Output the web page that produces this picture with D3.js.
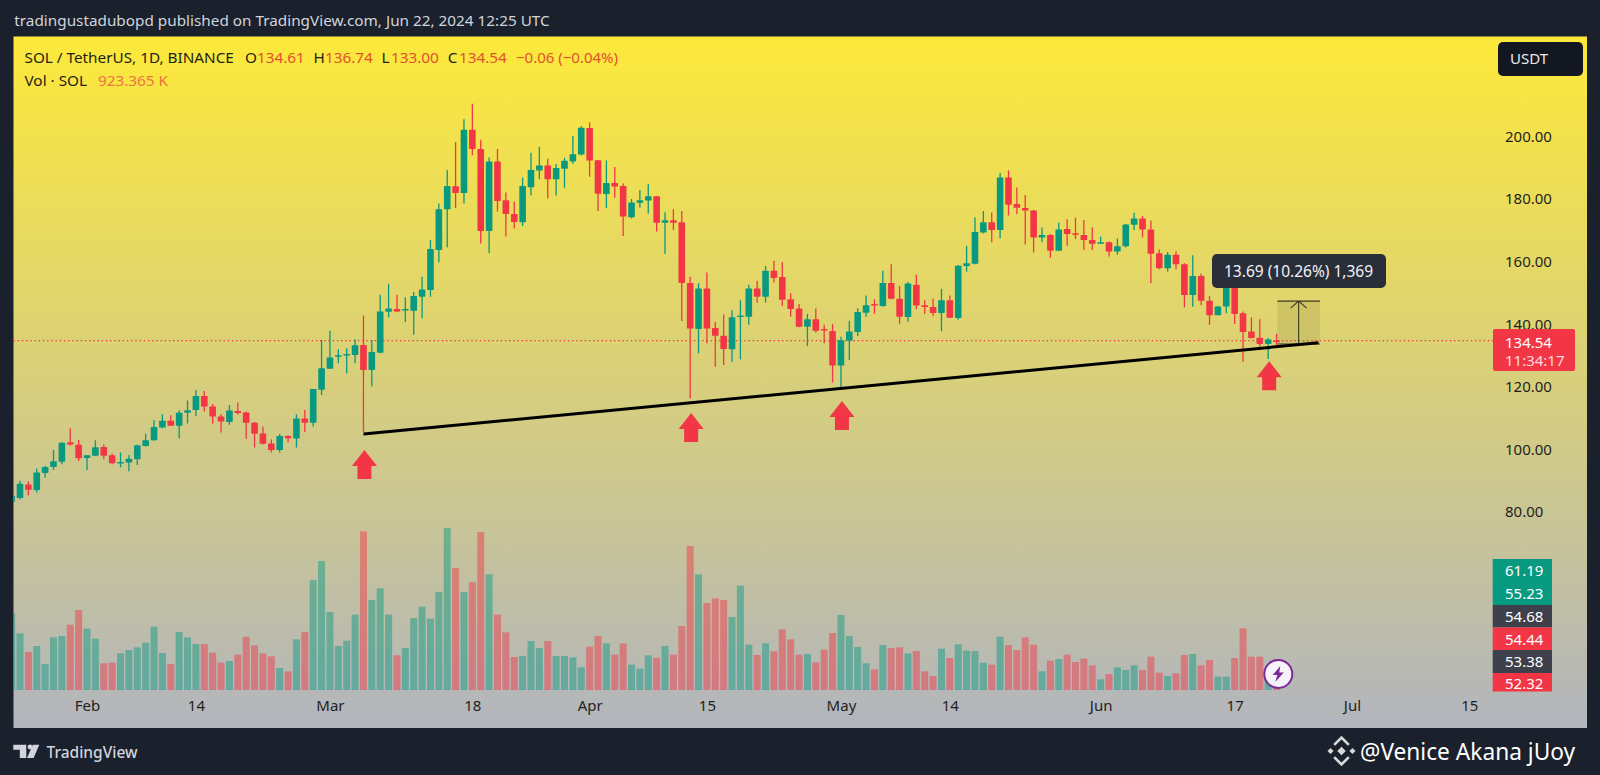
<!DOCTYPE html>
<html><head><meta charset="utf-8">
<script src="https://cdn.jsdelivr.net/npm/d3@7/dist/d3.min.js"></script>
<style>
html,body{margin:0;padding:0;background:#1a202c;overflow:hidden}
svg{display:block}
text{font-family:"Noto Sans",sans-serif}
</style></head><body>
<svg id="c" width="1600" height="775"></svg>
<script>
const firstDay = "2024-01-23";
const open = [83.0,84.3,88.6,86.8,92.3,94.2,95.9,102.1,101.3,97.1,97.8,100.6,97.9,95.5,95.6,96.7,100.9,102.7,106.8,109.0,107.4,111.5,112.4,116.9,113.5,110.3,108.6,112.1,111.6,108.3,104.9,101.7,99.6,104.1,103.3,109.7,108.3,118.9,125.6,129.4,130.1,130.0,133.2,125.2,130.7,143.8,144.7,144.2,144.1,148.6,150.7,163.5,176.5,183.9,181.7,201.9,195.8,169.6,191.8,179.4,175.0,172.4,183.6,188.9,190.5,186.1,189.5,191.8,194.0,202.5,192.2,181.4,184.9,184.0,174.0,178.6,179.3,180.7,172.2,173.0,172.4,153.0,138.3,151.2,138.6,136.1,131.8,142.3,142.2,151.2,148.6,156.9,154.9,147.8,144.8,139.0,141.4,138.3,137.6,126.6,134.5,137.3,143.5,146.3,145.6,153.0,147.9,142.1,152.4,145.9,145.3,143.4,147.5,141.8,158.4,159.1,169.1,172.4,169.9,186.7,178.2,176.9,176.1,167.5,168.3,163.3,170.2,168.9,168.3,166.7,165.5,166.0,163.0,164.7,171.6,173.6,170.1,162.5,157.7,162.0,159.0,149.1,155.2,147.3,142.7,145.5,155.0,143.3,137.5,135.5,133.5,134.61];
const high = [85.5,89.8,89.6,93.7,94.5,99.6,102.1,106.6,102.8,98.0,102.7,101.4,98.5,98.8,98.0,101.4,104.9,109.2,111.1,110.7,112.2,115.4,118.8,118.5,114.3,111.1,114.0,114.8,111.9,108.6,107.1,103.0,104.7,104.3,111.0,112.4,119.1,134.8,137.7,131.8,132.1,135.0,142.6,134.8,149.2,152.7,149.2,148.4,150.1,155.0,166.7,178.4,189.1,198.0,205.3,210.2,198.7,193.1,195.8,181.9,179.0,186.7,194.6,196.5,192.7,191.0,193.0,199.9,203.1,204.3,192.3,192.1,190.0,184.8,179.8,182.7,184.6,180.8,175.6,176.5,176.0,155.0,152.9,156.3,140.5,142.9,144.3,147.5,152.4,153.7,158.4,160.1,159.7,149.7,146.3,143.1,144.8,139.6,139.9,135.8,140.9,144.9,149.0,147.8,156.9,159.0,152.0,153.3,155.6,147.5,147.9,151.1,149.0,158.7,164.8,174.0,176.0,175.5,188.2,188.9,183.5,181.1,176.3,170.7,168.6,172.2,173.3,173.8,173.1,170.8,167.8,166.2,167.2,171.8,175.4,174.4,172.9,163.7,162.9,163.1,159.3,161.8,156.0,148.8,145.6,157.0,160.0,143.9,142.0,141.4,135.4,136.74];
const low = [82.5,83.9,85.1,86.0,90.8,93.2,95.1,101.0,96.1,93.2,97.7,96.7,95.1,94.1,92.8,94.8,100.7,102.6,106.6,107.3,103.3,108.1,110.5,111.9,108.0,105.2,107.7,110.9,103.1,100.4,101.4,98.8,98.8,102.0,100.4,105.4,107.1,117.2,125.5,127.3,124.1,127.3,105.4,119.9,130.5,142.0,143.6,140.5,136.4,141.6,148.6,159.5,164.4,176.9,178.4,193.8,165.6,162.5,175.8,167.8,170.4,171.2,180.9,186.1,180.0,180.9,183.4,191.0,193.7,186.9,176.0,176.9,180.2,168.0,173.6,177.0,175.2,169.4,162.2,169.9,140.8,116.1,130.5,133.7,126.2,126.8,127.7,128.6,139.6,146.7,146.7,153.1,145.6,142.2,138.8,132.8,137.1,133.7,121.2,119.3,128.4,136.0,142.2,143.1,145.4,147.8,139.9,140.6,144.6,143.1,142.4,137.6,141.8,141.2,156.6,159.0,168.8,166.0,167.3,174.5,174.9,165.3,162.7,166.0,161.0,163.2,164.9,167.0,163.5,163.5,165.4,161.4,162.0,164.3,169.9,167.5,152.9,157.4,156.6,157.4,145.2,145.4,145.9,139.6,142.7,143.3,139.9,127.8,135.2,132.6,128.7,133.00];
const close = [85.0,88.8,86.9,92.4,94.2,96.0,101.9,101.4,97.0,97.9,100.5,97.8,95.4,95.8,96.8,101.1,102.7,107.0,109.0,107.4,111.5,112.3,116.9,113.5,110.3,108.7,112.2,111.4,108.3,104.8,101.6,99.6,104.1,103.4,109.7,108.3,119.1,125.7,129.2,129.9,130.3,133.1,125.2,130.9,143.9,144.8,143.9,144.7,148.8,150.9,163.8,176.5,184.0,181.7,201.9,195.8,169.6,191.8,179.2,175.0,172.5,184.0,189.1,190.5,186.1,189.7,192.0,194.1,202.6,192.1,181.5,184.9,183.8,174.2,178.7,179.4,180.7,172.2,173.0,172.2,153.0,138.4,151.2,138.4,136.1,131.9,142.0,142.6,151.2,148.6,156.9,154.6,147.6,144.7,139.0,141.4,137.7,137.8,126.6,134.7,137.5,143.7,145.9,145.8,153.0,147.9,142.2,152.8,145.8,145.3,143.4,147.5,141.9,158.5,159.3,169.3,172.4,169.9,186.7,178.0,177.0,176.1,167.5,168.3,163.3,170.1,168.6,168.6,166.7,165.5,166.0,163.0,164.7,171.7,173.6,170.1,162.3,157.7,162.0,159.0,149.1,155.2,147.3,142.7,145.5,155.0,143.1,137.3,135.4,133.5,134.9,134.54];
const volume = [2300,1700,1140,1320,780,1580,1620,1960,2400,1840,1540,800,820,1100,1200,1280,1420,1900,1110,780,1740,1580,1380,1380,1120,820,870,1060,1600,1340,1100,1010,660,560,1520,1740,3300,3870,2340,1320,1480,2260,4760,2700,3050,2260,1040,1260,2160,2500,2140,2940,4860,3660,2940,3240,4740,3470,2260,1730,990,1020,1470,1260,1470,1020,1020,980,680,1300,1620,1400,1060,1400,760,640,1040,970,1320,1060,1920,4320,3470,2610,2750,2700,2190,3130,1360,1050,1400,1160,1820,1520,1060,1080,830,1210,1710,2250,1620,1290,800,620,1350,1260,1280,1100,1170,560,420,1240,960,1370,1180,1170,820,760,1600,1350,1200,1580,1360,560,880,930,1060,840,940,740,320,480,680,600,740,600,1000,520,420,500,1050,1080,740,900,400,400,960,1850,1000,1000,500,923];
const xTickDays = ["2024-02-01","2024-02-14","2024-03-01","2024-03-18","2024-04-01","2024-04-15","2024-05-01","2024-05-14","2024-06-01","2024-06-17","2024-07-01","2024-07-15"];
const xTickLabels = ["Feb","14","Mar","18","Apr","15","May","14","Jun","17","Jul","15"];
const priceTicks = [200,180,160,140,120,100,80];
const volumeLabels = ["61.19","55.23","54.68","54.44","53.38","52.32"];
const volumeLabelColors = ["#089981","#089981","#3e414c","#f23645","#3e414c","#f23645"];
const trendFrom = ["2024-03-05",104.7];
const trendTo = ["2024-06-27",133.9];
const arrowDays = ["2024-03-05","2024-04-13","2024-05-01","2024-06-21"];
const arrowPrices = [99.6,111.4,115.3,128.0];
const lastPrice = 134.54;
const measureBase = 133.5, measureTop = 147.19;
const measureFrom = "2024-06-22", measureTo = "2024-06-27";

const GREEN="#089981", RED="#f23645", DARK="#1a202c";
const W=1600,H=775, L=13.5,R=1587,T=36.5,B=728;
const day = s => new Date(s+"T00:00:00Z");
const d0 = day(firstDay);
const dates = open.map((_,i)=> d3.utcDay.offset(d0,i));
const svg = d3.select("#c");
const defs = svg.append("defs");
const grad = defs.append("linearGradient").attr("id","bg").attr("x1",0).attr("x2",0).attr("y1",0).attr("y2",1);
grad.append("stop").attr("offset",0).attr("stop-color","#fde93a");
grad.append("stop").attr("offset",1).attr("stop-color","#b2b5be");
defs.append("clipPath").attr("id","plot").append("rect").attr("x",L).attr("y",T).attr("width",R-L).attr("height",B-T);

svg.append("rect").attr("width",W).attr("height",H).attr("fill",DARK);
svg.append("rect").attr("x",L).attr("y",T).attr("width",R-L).attr("height",B-T).attr("fill","url(#bg)");

const x = d3.scaleUtc().domain([d0, d3.utcDay.offset(d0,175)]).range([11.62, 11.62+175*8.377]);
const y = d3.scaleLinear().domain([80,200]).range([511.4,135.8]);
const v = d3.scaleLinear().domain([0,4830]).range([690,529]);

const plot = svg.append("g").attr("clip-path","url(#plot)");

// volume
plot.append("g").selectAll("rect").data(volume).join("rect")
  .attr("x",(d,i)=>x(dates[i])-3.5).attr("width",7)
  .attr("y",d=>v(d)).attr("height",d=>v(0)-v(d))
  .attr("fill",(d,i)=>close[i]>=open[i]?GREEN:RED).attr("fill-opacity",0.47);

// last price line
plot.append("line").attr("x1",L).attr("x2",1493).attr("y1",y(lastPrice)).attr("y2",y(lastPrice))
  .attr("stroke",RED).attr("stroke-width",1.3).attr("stroke-dasharray","1.4 2.8");

// candles
const candles = plot.append("g").selectAll("g").data(open).join("g")
  .attr("fill",(d,i)=>close[i]>=open[i]?GREEN:RED).attr("stroke",(d,i)=>close[i]>=open[i]?GREEN:RED);
candles.append("line").attr("x1",(d,i)=>x(dates[i])).attr("x2",(d,i)=>x(dates[i]))
  .attr("y1",(d,i)=>y(high[i])).attr("y2",(d,i)=>y(low[i])).attr("stroke-width",1.3);
candles.append("rect").attr("stroke","none").attr("rx",.6)
  .attr("x",(d,i)=>x(dates[i])-3.3).attr("width",6.6)
  .attr("y",(d,i)=>y(Math.max(open[i],close[i])))
  .attr("height",(d,i)=>Math.max(1.6,Math.abs(y(open[i])-y(close[i]))));

// measure tool
const mx0=x(day(measureFrom))+.8, mx1=x(day(measureTo))+1.5, mmid=(mx0+mx1)/2;
plot.append("rect").attr("x",mx0).attr("width",mx1-mx0).attr("y",y(measureTop)).attr("height",y(measureBase)-y(measureTop))
  .attr("fill","rgba(80,70,30,.11)");
const mc="#3b3a22";
plot.append("path").attr("fill","none").attr("stroke",mc).attr("stroke-width",1.1)
  .attr("d",`M${mx0},${y(measureTop)}H${mx1}M${mx0},${y(measureBase)}H${mx1}M${mmid},${y(measureBase)}V${y(measureTop)}M${mmid-8},${y(measureTop)+7}L${mmid},${y(measureTop)}L${mmid+8},${y(measureTop)+7}`);

// trend line
const tl = d3.line().x(d=>x(day(d[0]))).y(d=>y(d[1]));
plot.append("path").attr("d",tl([trendFrom,trendTo])).attr("stroke","#000").attr("stroke-width",3).attr("fill","none");

// arrows
const arrowShape = d3.line()([[0,0],[12.5,16],[7,16],[7,29],[-7,29],[-7,16],[-12.5,16]])+"Z";
svg.append("g").selectAll("path").data(arrowDays).join("path")
  .attr("d",arrowShape).attr("fill",RED)
  .attr("transform",(d,i)=>`translate(${x(day(d))+1},${y(arrowPrices[i])})`);

// axes
const axisFont = 15;
const yAxis = d3.axisRight(y).tickValues(priceTicks).tickSize(0).tickPadding(0).tickFormat(d=>d.toFixed(2));
const ya = svg.append("g").attr("transform","translate(1505,0.6)").call(yAxis);
ya.select(".domain").remove();
ya.selectAll("text").attr("fill","#1f1f1f").style("font-size",axisFont+"px").style("font-family",'"Noto Sans"');

const xAxis = d3.axisBottom(x).tickValues(xTickDays.map(day)).tickSize(0).tickPadding(0)
  .tickFormat((d,i)=>xTickLabels[i]);
const xa = svg.append("g").attr("transform","translate(0,700)").call(xAxis);
xa.select(".domain").remove();
xa.selectAll("text").attr("fill","#1f1f1f").style("font-size",axisFont+"px").style("font-family",'"Noto Sans"');

// title + legend
const FS=15.3;
const txt=(px,py,s,fill,size,extra)=>{const t=svg.append("text").attr("x",px).attr("y",py).attr("fill",fill).attr("font-size",size).text(s);
  if(extra) Object.entries(extra).forEach(([k,val])=>t.attr(k,val)); return t;};
txt(14.3,26,"tradingustadubopd published on TradingView.com, Jun 22, 2024 12:25 UTC","#d1d4dc",FS);
const lc="#1f1f12", vc="#e0512e";
const ly=62.5;
txt(24.5,ly,"SOL / TetherUS, 1D, BINANCE",lc,FS);
txt(245,ly,"O",lc,FS); txt(257,ly,"134.61",vc,FS);
txt(313.5,ly,"H",lc,FS); txt(325,ly,"136.74",vc,FS);
txt(381.6,ly,"L",lc,FS); txt(391,ly,"133.00",vc,FS);
txt(447.8,ly,"C",lc,FS); txt(459,ly,"134.54",vc,FS);
txt(516,ly,"−0.06 (−0.04%)",vc,15);
txt(24.5,85.5,"Vol · SOL",lc,FS);
txt(98,85.5,"923.365 K","#ea7440",FS);

// USDT badge
svg.append("rect").attr("x",1498).attr("y",42).attr("width",85).attr("height",34).attr("rx",5).attr("fill","#131722");
txt(1510,64,"USDT","#e8e8ea",15);

// measure tooltip
svg.append("rect").attr("x",1212).attr("y",254).attr("width",174).attr("height",34).attr("rx",5).attr("fill","#2a2e39");
txt(1224,276.5,"13.69 (10.26%) 1,369","#f0f3fa",15.5);

// price label
svg.append("rect").attr("x",1493).attr("y",329).attr("width",82).attr("height",42).attr("rx",2).attr("fill",RED);
txt(1505,347.5,"134.54","#fff",15);
txt(1505,365.5,"11:34:17","#ffd9dc",15);

// volume labels
const labelTops=[559,582,605,627.5,650,673];
const labelHeights=[23,23,22.5,22.5,23,18.5];
const vl=svg.append("g").selectAll("g").data(volumeLabels).join("g");
vl.append("rect").attr("x",1492.7).attr("width",59.3).attr("y",(d,i)=>labelTops[i]).attr("height",(d,i)=>labelHeights[i]).attr("fill",(d,i)=>volumeLabelColors[i]);
vl.append("text").attr("x",1505).attr("y",(d,i)=>[576,598.5,622,644.5,667,689][i]).attr("fill","#fff").attr("font-size",15).text(d=>d);

// lightning badge
const bx=1278.3, by=674;
svg.append("circle").attr("cx",bx).attr("cy",by).attr("r",14).attr("fill","#f7f3fa").attr("stroke","#7b2a9a").attr("stroke-width",2);
svg.append("path").attr("transform",`translate(${bx},${by})`).attr("fill","#7b2a9a")
  .attr("d","M2,-8 L-5.5,1 L-1,1 L-3,8 L5.5,-1.5 L1,-1.5 Z");

// footer logo + text
svg.append("path").attr("transform","translate(13.3,744.7)").attr("fill","#d1d4dc")
  .attr("d","M0,0H13V13.3H6.5V5H0Z M26,0L20.3,13.3H13.7L19.5,0Z");
svg.append("circle").attr("cx",30).attr("cy",747).attr("r",2.4).attr("fill","#d1d4dc");
txt(46.5,758,"TradingView","#d1d4dc",15.5,{"font-weight":500});

const bi = svg.append("g").attr("transform","translate(1341.5,751) scale(1.22)").attr("fill","none").attr("stroke","#d8d8d8").attr("stroke-width",2.2);
bi.append("path").attr("d","M-6,-5 L0,-11 L6,-5 M-6,5 L0,11 L6,5");
bi.append("path").attr("fill","#d8d8d8").attr("stroke","none").attr("d","M0,-3.5L3.5,0L0,3.5L-3.5,0Z M-9,-2.5L-6.5,0L-9,2.5L-11.5,0Z M9,-2.5L11.5,0L9,2.5L6.5,0Z");
txt(1360,760,"@Venice Akana jUoy","#fff",22.7);
</script>
</body></html>
